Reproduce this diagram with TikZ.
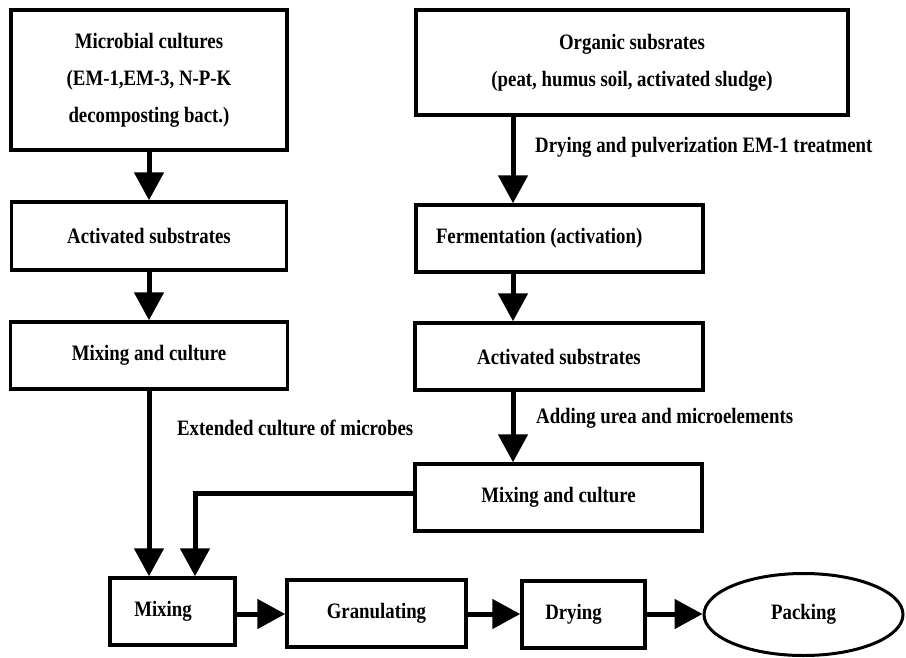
\documentclass[tikz,border=0pt]{standalone}
\usepackage{fontspec}
\setmainfont[FakeStretch=0.855]{Liberation Serif}
\usetikzlibrary{arrows.meta,shapes.geometric}
\begin{document}
\begin{tikzpicture}[x=1pt,y=-1pt,
  every node/.style={font=\fontsize{22}{37}\selectfont\bfseries},
  box/.style={draw, line width=3.5pt, inner sep=0pt, align=center},
  lbl/.style={inner sep=0pt, anchor=west},
  flow/.style={line width=5pt, -{Triangle[width=29pt,length=28pt]}}]
\useasboundingbox (0,0) rectangle (906,657);
% left column
\node[box, minimum width=276pt, minimum height=140pt] (mc1) at (149,80)
  {Microbial cultures\\(EM-1,EM-3, N-P-K\\decomposting bact.)};
\node[box, minimum width=275pt, minimum height=68pt] (as1) at (149,236) {Activated substrates};
\node[box, minimum width=277pt, minimum height=67pt] (mx1) at (149,355.5) {Mixing and culture};
% right column
\node[box, minimum width=432pt, minimum height=105pt] (org) at (632,62.5)
  {Organic subsrates\\(peat, humus soil, activated sludge)};
\node[box, minimum width=287pt, minimum height=67pt, align=left] (ferm) at (559.5,238.5)
  {\makebox[247pt][l]{Fermentation (activation)}};
\node[box, minimum width=288pt, minimum height=67pt] (as2) at (559,356.5) {Activated substrates};
\node[box, minimum width=287pt, minimum height=67pt] (mx2) at (558.5,497.5) {Mixing and culture};
% bottom row
\node[box, minimum width=125pt, minimum height=67pt] (mix) at (172.5,611.5) {\hspace*{-19pt}Mixing};
\node[box, minimum width=179pt, minimum height=67pt] (gran) at (376.5,613.5) {Granulating};
\node[box, minimum width=123pt, minimum height=67pt] (dry) at (583.5,614.5) {\hspace*{-20pt}Drying};
\node[draw, ellipse, line width=3pt, minimum width=199pt, minimum height=82pt, inner sep=0pt] (pack) at (803.5,614.5) {Packing};
% labels
\node[lbl] (l1) at (535,147) {Drying and pulverization EM-1 treatment};
\node[lbl] (l2) at (536,418) {Adding urea and microelements};
\node[lbl] (l3) at (177,428) {Extended culture of microbes};
% helper coordinates
\coordinate (rx) at (513,0);
\coordinate (hy) at (0,493);
\coordinate (lx2) at (195,0);
\coordinate (gy) at (0,614);
% connectors
\draw[flow] (mc1.south) -- (as1.north);
\draw[flow] (as1.south) -- (mx1.north);
\draw[flow] (mx1.south) -- (mx1.south |- mix.north);
\draw[flow] (org.south -| rx) -- (ferm.north -| rx);
\draw[flow] (ferm.south -| rx) -- (as2.north -| rx);
\draw[flow] (as2.south -| rx) -- (mx2.north -| rx);
\draw[flow] (mx2.west |- hy) -| (mix.north -| lx2);
\draw[flow] (mix.east |- gy) -- (gran.west |- gy);
\draw[flow] (gran.east |- gy) -- (dry.west |- gy);
\draw[flow] (dry.east |- gy) -- (pack.west |- gy);
\end{tikzpicture}
\end{document}
